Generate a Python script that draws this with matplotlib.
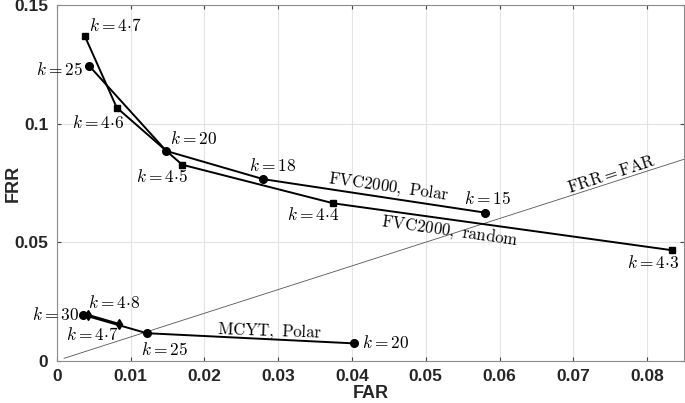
import numpy as np
import matplotlib.pyplot as plt

plt.rcParams['mathtext.fontset'] = 'cm'

# FVC2000, Polar (circles)
fvc_polar_far = [0.00438, 0.01485, 0.0280, 0.0580]
fvc_polar_frr = [0.1245, 0.0885, 0.0766, 0.0625]
fvc_polar_lab = ['k=25', 'k=20', 'k=18', 'k=15']

# FVC2000, random (squares)
fvc_rand_far = [0.00379, 0.00813, 0.0170, 0.0375, 0.0834]
fvc_rand_frr = [0.1371, 0.1068, 0.0827, 0.0664, 0.0466]
fvc_rand_lab = ['k=4{\\cdot}7', 'k=4{\\cdot}6', 'k=4{\\cdot}5', 'k=4{\\cdot}4', 'k=4{\\cdot}3']

# MCYT, Polar (circles)
mcyt_polar_far = [0.0036, 0.0122, 0.0403]
mcyt_polar_frr = [0.0193, 0.0116, 0.0073]
mcyt_polar_lab = ['k=30', 'k=25', 'k=20']

# MCYT, random (diamonds)
mcyt_rand_far = [0.00428, 0.00848]
mcyt_rand_frr = [0.0193, 0.0155]
mcyt_rand_lab = ['k=4{\\cdot}8', 'k=4{\\cdot}7']

# label offsets in pixels (dx, dy up), alignment
fvc_polar_off = [(-6, -4, 'right'), (4, 12, 'left'), (9, 13, 'center'), (3, 14, 'center')]
fvc_rand_off = [(4, 10, 'left'), (-19, -15, 'center'), (-20, -12, 'center'), (-20, -12, 'center'), (-19, -13, 'center')]
mcyt_polar_off = [(-4, 0, 'right'), (18, -17, 'center'), (8, 0, 'left')]
mcyt_rand_off = [(0, 12, 'left'), (-27, -11, 'center')]

fig = plt.figure(figsize=(6.85, 4.03), dpi=100)
ax = fig.add_axes([0.0828, 0.105, 0.9158, 0.882])

diag = np.array([0.001, 0.085])
ax.plot(diag, diag, color='#555555', lw=0.6)

ax.plot(fvc_polar_far, fvc_polar_frr, 'k-o', lw=1.4, ms=5.5)
ax.plot(fvc_rand_far, fvc_rand_frr, 'k-s', lw=1.4, ms=4)
ax.plot(mcyt_polar_far, mcyt_polar_frr, 'k-o', lw=1.4, ms=5.5)
ax.plot(mcyt_rand_far, mcyt_rand_frr, 'k-d', lw=1.4, ms=5.5)

px = 72 / fig.dpi
for xs, ys, labs, offs in [(fvc_polar_far, fvc_polar_frr, fvc_polar_lab, fvc_polar_off),
                           (fvc_rand_far, fvc_rand_frr, fvc_rand_lab, fvc_rand_off),
                           (mcyt_polar_far, mcyt_polar_frr, mcyt_polar_lab, mcyt_polar_off),
                           (mcyt_rand_far, mcyt_rand_frr, mcyt_rand_lab, mcyt_rand_off)]:
    for x, y, lab, (dx, dy, ha) in zip(xs, ys, labs, offs):
        ax.annotate('$' + lab + '$', (x, y), xytext=(dx * px, dy * px),
                    textcoords='offset points', ha=ha, va='center', fontsize=12.5)

ax.annotate(r'$\mathrm{FVC2000,\ Polar}$', (0.0280, 0.0766), xytext=(125 * px, -7 * px),
            textcoords='offset points', ha='center', va='center', fontsize=12, rotation=-8)
ax.annotate(r'$\mathrm{FVC2000,\ random}$', (0.0375, 0.0664), xytext=(116 * px, -27 * px),
            textcoords='offset points', ha='center', va='center', fontsize=12, rotation=-8)
ax.annotate(r'$\mathrm{FRR{=}FAR}$', (0.075, 0.075), xytext=(1 * px, 9 * px),
            textcoords='offset points', ha='center', va='center', fontsize=12, rotation=18)
ax.annotate(r'$\mathrm{MCYT,\ Polar}$', (0.0122, 0.0116), xytext=(123 * px, 2 * px),
            textcoords='offset points', ha='center', va='center', fontsize=12, rotation=-2)

ax.set_xlim(0, 0.085)
ax.set_ylim(0, 0.15)
ax.set_xticks([0, 0.01, 0.02, 0.03, 0.04, 0.05, 0.06, 0.07, 0.08])
ax.set_xticklabels(['0', '0.01', '0.02', '0.03', '0.04', '0.05', '0.06', '0.07', '0.08'])
ax.set_yticks([0, 0.05, 0.1, 0.15])
ax.set_yticklabels(['0', '0.05', '0.1', '0.15'])
ax.grid(True, color='#e3e3e3', lw=0.8)
ax.set_axisbelow(True)
for s in ax.spines.values():
    s.set_color('#8c8c8c')
ax.tick_params(direction='in', top=True, right=True, length=3, color='#444444', pad=6)
for t in ax.get_xticklabels() + ax.get_yticklabels():
    t.set_fontfamily('Liberation Sans')
    t.set_fontweight('bold')
    t.set_fontsize(12.5)
    t.set_color('#262626')
ax.set_xlabel('FAR', fontfamily='Liberation Sans', fontweight='bold', fontsize=13, color='#262626')
ax.set_ylabel('FRR', fontfamily='Liberation Sans', fontweight='bold', fontsize=13, color='#262626')
ax.xaxis.set_label_coords(0.5, -0.068)
ax.yaxis.set_label_coords(-0.055, 0.5)

fig.savefig('out.png', dpi=100)
